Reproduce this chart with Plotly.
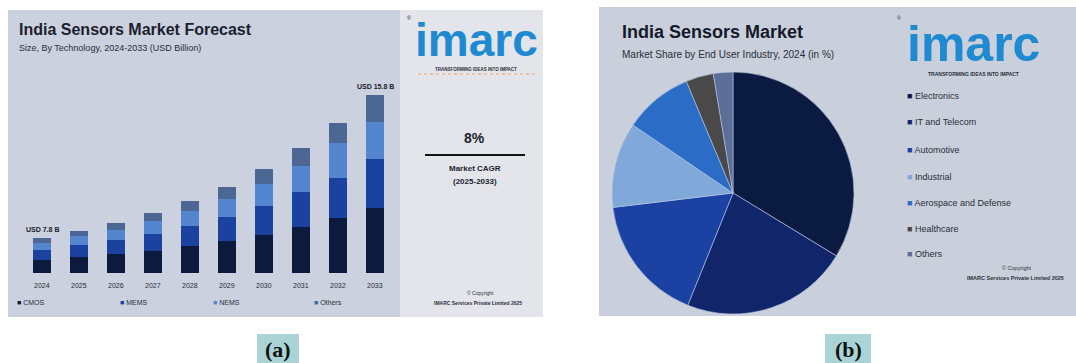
import plotly.graph_objects as go

W, H = 1076, 363
def fx(x): return x / W
def fy(y): return 1 - y / H

# ---------------- data ----------------
years = [2024, 2025, 2026, 2027, 2028, 2029, 2030, 2031, 2032, 2033]
tech_names = ["CMOS", "MEMS", "NEMS", "Others"]
cmos   = [1.3, 1.6, 1.9, 2.2, 2.7, 3.2, 3.8, 4.6, 5.5, 6.5]
mems   = [1.0, 1.2, 1.4, 1.7, 2.0, 2.4, 2.9, 3.5, 4.0, 4.9]
nems   = [0.7, 0.9, 1.0, 1.3, 1.5, 1.8, 2.2, 2.6, 3.5, 3.7]
others = [0.5, 0.5, 0.7, 0.8, 1.0, 1.2, 1.5, 1.8, 2.0, 2.7]
end_labels = ["USD 7.8 B", "USD 15.8 B"]
cagr_text = "8%"

industries = ["Electronics", "IT and Telecom", "Automotive", "Industrial",
              "Aerospace and Defense", "Healthcare", "Others"]
shares = [33.7, 22.4, 17.0, 11.4, 9.2, 3.7, 2.6]

bar_colors = ["#0c1a3e", "#1b429f", "#5486d0", "#4c6794"]
pie_colors = ["#0b1a40", "#10256a", "#1b41a2", "#80a9da", "#2b6cc6", "#4a4848", "#5b6e98"]

fig = go.Figure()

# ---------------- panel backgrounds ----------------
shapes = []
def rect(x0, y0, x1, y1, color):
    shapes.append(dict(type="rect", xref="paper", yref="paper", x0=fx(x0), x1=fx(x1),
                       y0=fy(y1), y1=fy(y0), fillcolor=color, line=dict(width=0), layer="below"))

rect(8, 10, 543, 317, "#cbd1de")
rect(400, 10, 543, 317, "#e3e5ea")
rect(599, 7, 1076, 316, "#c9d0dc")
rect(257, 334, 299, 363, "#a9d3d5")
rect(825, 334, 871, 363, "#a9d3d5")
shapes.append(dict(type="line", xref="paper", yref="paper", x0=fx(425), x1=fx(525),
                   y0=fy(155), y1=fy(155), line=dict(color="#111111", width=2)))
shapes.append(dict(type="line", xref="paper", yref="paper", x0=fx(418), x1=fx(535),
                   y0=fy(74), y1=fy(74), line=dict(color="#f2a56a", width=1, dash="dot")))

# ---------------- bars ----------------
for name, vals, col in zip(tech_names, [cmos, mems, nems, others], bar_colors):
    fig.add_trace(go.Bar(x=years, y=vals, name=name, width=0.49,
                         marker=dict(color=col, line=dict(width=0)),
                         hoverinfo="skip", showlegend=False, xaxis="x", yaxis="y"))

totals = [a + b + c + d for a, b, c, d in zip(cmos, mems, nems, others)]

# ---------------- pie ----------------
fig.add_trace(go.Pie(labels=industries, values=shares, sort=False, direction="clockwise",
                     rotation=0, textinfo="none", hoverinfo="skip", showlegend=False,
                     marker=dict(colors=pie_colors, line=dict(width=0.6, color="#b9c9e6")),
                     domain=dict(x=[fx(733 - 123), fx(733 + 123)], y=[fy(193 + 121), fy(193 - 121)])))

ann = []
def text(x, y, s, size, color="#1c2030", bold=False, anchor="center", family="Liberation Sans"):
    ann.append(dict(xref="paper", yref="paper", x=fx(x), y=fy(y), text=("<b>%s</b>" % s) if bold else s,
                    showarrow=False, xanchor=anchor, yanchor="middle",
                    font=dict(size=size, color=color, family=family)))

# panel (a) texts
text(17, 29, "India Sensors Market Forecast", 16, "#1b1f30", True, "left")
text(17, 48, "Size, By Technology, 2024-2033 (USD Billion)", 9, "#2a2e3a", False, "left")
for i, lab in zip([0, len(years) - 1], end_labels):
    ann.append(dict(xref="x", yref="y", x=years[i], y=totals[i], text="<b>%s</b>" % lab,
                    showarrow=False, yanchor="bottom", yshift=3,
                    font=dict(size=7, color="#1c2030", family="Liberation Sans")))
for yr in years:
    ann.append(dict(xref="x", yref="paper", x=yr, y=fy(285), text=str(yr), showarrow=False,
                    yanchor="middle", font=dict(size=7, color="#2a2e3a", family="Liberation Sans")))
for lx, name, col in zip([15, 118, 211, 312], tech_names, bar_colors):
    ann.append(dict(xref="paper", yref="paper", x=fx(lx), y=fy(302), xanchor="left", yanchor="middle",
                    text='<span style="color:%s">■</span> %s' % (col, name), showarrow=False,
                    font=dict(size=7, color="#2a2e3a", family="Liberation Sans")))
# logo (a)
text(409, 18, "®", 5, "#1f2a44")
text(476, 40, "imarc", 46, "#1f8ad1", True)
text(476, 69, "TRANSFORMING IDEAS INTO IMPACT", 4.5, "#2b2f3d", True)
text(474, 138, cagr_text, 14, "#1b1f30", True)
text(475, 168, "Market CAGR", 8, "#1b1f30", True)
text(475, 182, "(2025-2033)", 8, "#1b1f30", True)
text(480, 293, "© Copyright", 5, "#2b2f3d")
text(478, 303, "IMARC Services Private Limited 2025", 5, "#2b2f3d", True)

# panel (b) texts
text(620, 32, "India Sensors Market", 18, "#15192a", True, "left")
text(620, 55, "Market Share by End User Industry, 2024 (in %)", 10, "#2a2e3a", False, "left")
text(899, 18, "®", 5, "#1f2a44")
text(973, 44, "imarc", 50, "#1f8ad1", True)
text(973, 74, "TRANSFORMING IDEAS INTO IMPACT", 5, "#2b2f3d", True)
for ly, name, col in zip([96, 122, 150, 177, 203, 229, 254], industries, pie_colors):
    ann.append(dict(xref="paper", yref="paper", x=fx(905), y=fy(ly), xanchor="left", yanchor="middle",
                    text='<span style="color:%s">■</span> %s' % (col, name), showarrow=False,
                    font=dict(size=9, color="#2a2e3a", family="Liberation Sans")))
text(1017, 268, "© Copyright", 5.5, "#2b2f3d")
text(1015, 278, "IMARC Services Private Limited 2025", 5.5, "#2b2f3d", True)

# panel labels
text(278, 349, "(a)", 22, "#111111", True, family="Liberation Serif")
text(848, 349, "(b)", 22, "#111111", True, family="Liberation Serif")

fig.update_layout(
    width=W, height=H, margin=dict(l=0, r=0, t=0, b=0),
    paper_bgcolor="white", plot_bgcolor="rgba(0,0,0,0)",
    barmode="stack",
    xaxis=dict(domain=[fx(23.5), fx(393.5)], range=[2023.5, 2033.5], showticklabels=False,
               showgrid=False, zeroline=False, showline=False, fixedrange=True),
    yaxis=dict(domain=[fy(273), fy(73)], range=[0, 20], visible=False, fixedrange=True),
    shapes=shapes, annotations=ann, showlegend=False,
)

fig.write_html("out.html")
